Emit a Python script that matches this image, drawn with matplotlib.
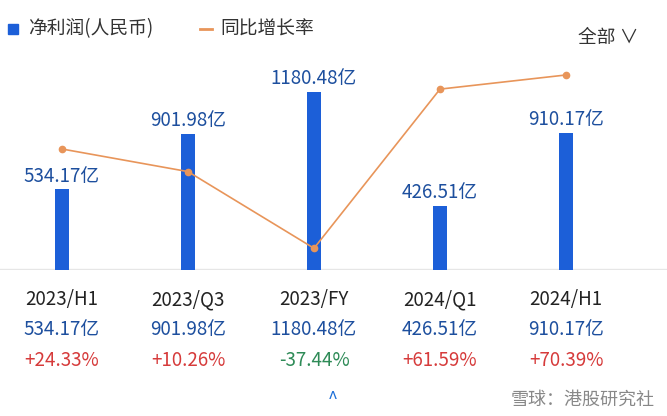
import matplotlib.pyplot as plt

plt.rcParams['font.family'] = ['Noto Sans CJK SC', 'DejaVu Sans']

periods = ['2023/H1', '2023/Q3', '2023/FY', '2024/Q1', '2024/H1']
profit = [534.17, 901.98, 1180.48, 426.51, 910.17]
growth = [24.33, 10.26, -37.44, 61.59, 70.39]

bar_blue = '#1c5fd8'
line_orange = '#e8955a'
text_blue = '#1d4f9e'

fig = plt.figure(figsize=(6.67, 4.16), dpi=100)
ax = fig.add_axes([0, 146 / 416, 1, 270 / 416])
x = list(range(len(periods)))
ax.bar(x, profit, width=0.11, color=bar_blue, zorder=2)
ax.set_xlim(-62 / 126, 605 / 126)
ax.set_ylim(0, 1180.48 * 270 / 178)
ax.axhline(8, color='#e6e6e6', lw=1, zorder=1)
for xi, v in zip(x, profit):
    ax.annotate(f'{v:.2f}亿', (xi, v), xytext=(0, 2), textcoords='offset points',
                ha='center', va='bottom', color=text_blue, fontsize=13.5)
ax.axis('off')

ax2 = ax.twinx()
ax2.plot(x, growth, color=line_orange, lw=1.2, marker='o', ms=4.5, zorder=3)
ax2.set_ylim(24.33 - 121 / 1.607, 24.33 + 149 / 1.607)
ax2.axis('off')

for xi, p, v, g in zip(x, periods, profit, growth):
    fx = (62 + 126 * xi) / 667
    fig.text(fx, 1 - 300 / 416, p, ha='center', va='center', fontsize=13.5, color='#222222')
    fig.text(fx, 1 - 330 / 416, f'{v:.2f}亿', ha='center', va='center', fontsize=13.5, color=text_blue)
    col = '#d63b3b' if g > 0 else '#2e8b57'
    fig.text(fx, 1 - 360 / 416, f'{g:+.2f}%', ha='center', va='center', fontsize=13.5, color=col)

# legend
fig.patches.append(plt.Rectangle((8 / 667, 1 - 34 / 416), 10 / 667, 10 / 416,
                                 transform=fig.transFigure, color=bar_blue))
fig.text(28 / 667, 1 - 29 / 416, '净利润(人民币)', va='center', fontsize=13.5, color='#333333')
fig.lines.append(plt.Line2D([200 / 667, 212 / 667], [1 - 29 / 416] * 2,
                            transform=fig.transFigure, color=line_orange, lw=2))
fig.text(220 / 667, 1 - 29 / 416, '同比增长率', va='center', fontsize=13.5, color='#333333')
fig.text(578 / 667, 1 - 38 / 416, '全部 ∨', va='center', fontsize=13.5, color='#333333')
fig.text(333 / 667, 1 - 400 / 416, '^', ha='center', va='center', fontsize=13, color='#1d6fd8')
fig.text(655 / 667, 1 - 400 / 416, '雪球：港股研究社', ha='right', va='center',
         fontsize=13, color='#888888')

fig.savefig('out.png')
